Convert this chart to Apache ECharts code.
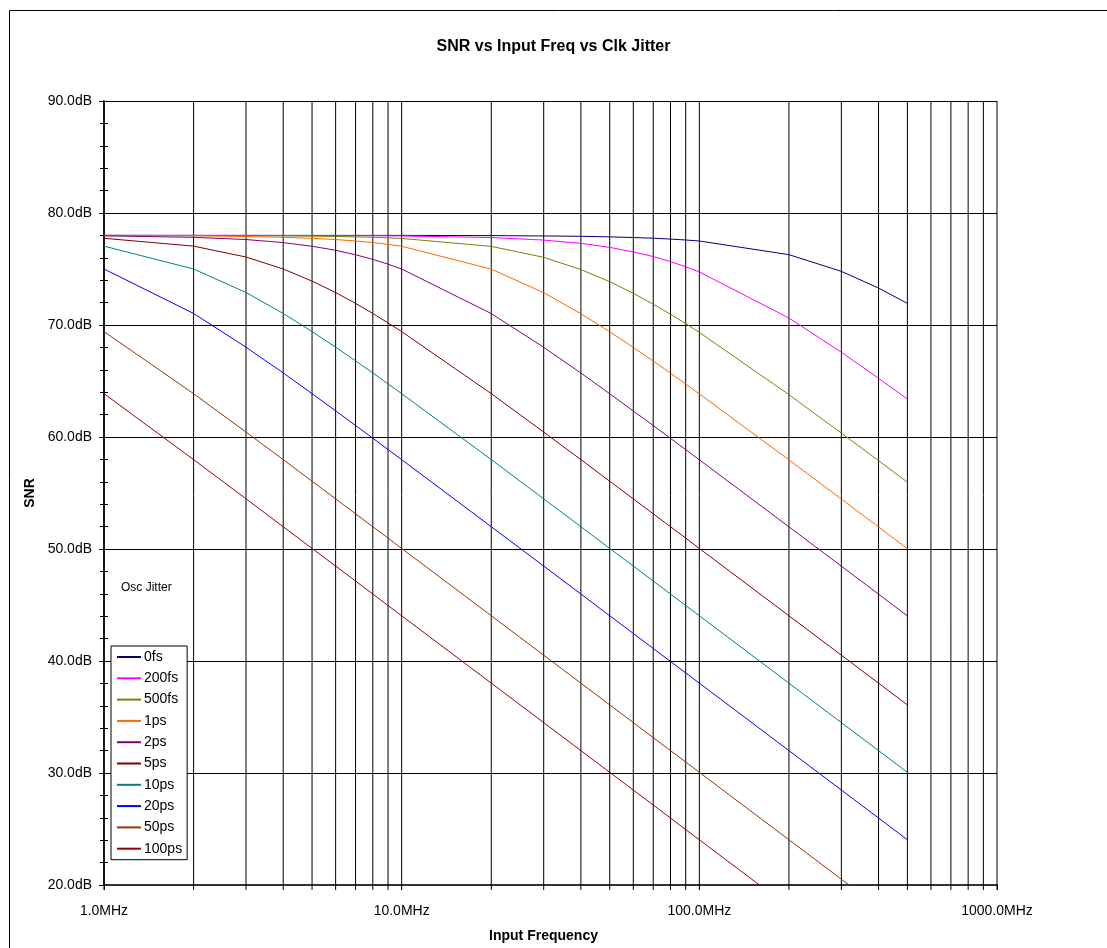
<!DOCTYPE html>
<html>
<head>
<meta charset="utf-8">
<script src="https://cdn.jsdelivr.net/npm/echarts@6/dist/echarts.min.js"></script>
<style>html,body{margin:0;padding:0;background:#fff;}#c{width:1107px;height:948px;}</style>
</head>
<body>
<div id="c"></div>
<script>
// Input frequency (MHz)
const freqMHz = [1,2,3,4,5,6,7,8,9,10,20,30,40,50,60,70,80,90,100,200,300,400,500];
// SNR (dB) for each oscillator jitter
const snr0fs   = [78.00,78.00,78.00,78.00,78.00,78.00,78.00,78.00,78.00,78.00,77.98,77.95,77.92,77.87,77.81,77.75,77.67,77.59,77.50,76.28,74.79,73.30,71.93];
const snr200fs = [78.00,78.00,78.00,77.99,77.99,77.98,77.98,77.97,77.96,77.95,77.81,77.58,77.29,76.93,76.53,76.11,75.66,75.20,74.74,70.62,67.57,65.24,63.39];
const snr500fs = [78.00,77.99,77.98,77.96,77.93,77.90,77.87,77.83,77.78,77.73,77.02,76.04,74.95,73.87,72.83,71.86,70.96,70.12,69.34,63.78,60.35,57.89,55.96];
const snr1ps   = [77.99,77.96,77.90,77.83,77.74,77.63,77.50,77.36,77.20,77.03,74.99,72.88,71.01,69.40,68.00,66.78,65.70,64.73,63.85,57.96,54.46,51.97,50.03];
const snr2ps   = [77.96,77.83,77.63,77.36,77.03,76.67,76.27,75.86,75.43,75.00,71.02,68.01,65.71,63.86,62.33,61.02,59.88,58.87,57.97,51.98,48.47,45.97,44.03];
const snr5ps   = [77.74,77.04,76.07,75.00,73.92,72.90,71.93,71.03,70.19,69.41,63.87,60.44,57.98,56.05,54.48,53.14,51.99,50.97,50.05,44.04,40.52,38.02,36.08];
const snr10ps  = [77.04,75.00,72.90,71.03,69.41,68.02,66.80,65.72,64.74,63.87,57.98,54.48,51.99,50.05,48.48,47.14,45.98,44.95,44.04,38.02,34.50,32.00,30.06];
const snr20ps  = [75.00,71.03,68.02,65.72,63.87,62.34,61.03,59.89,58.88,57.98,51.99,48.48,45.98,44.04,42.46,41.12,39.96,38.93,38.02,32.00,28.48,25.98,24.04];
const snr50ps  = [69.41,63.87,60.44,57.98,56.05,54.48,53.14,51.99,50.97,50.05,44.04,40.52,38.02,36.08,34.50,33.16,32.00,30.98,30.06,24.04,20.52,18.02,16.08];
const snr100ps = [63.87,57.98,54.48,51.99,50.05,48.48,47.14,45.98,44.95,44.04,38.02,34.50,32.00,30.06,28.48,27.14,25.98,24.95,24.04,18.02,14.50,12.00,10.06];

const seriesNames = ['0fs','200fs','500fs','1ps','2ps','5ps','10ps','20ps','50ps','100ps'];
const seriesValues = [snr0fs,snr200fs,snr500fs,snr1ps,snr2ps,snr5ps,snr10ps,snr20ps,snr50ps,snr100ps];
const seriesColors = ['#000080','#FF00FF','#808000','#FF6600','#800080','#800000','#008080','#0000FF','#993300','#990000'];

// x gridline positions (MHz) and axis range
const gridFreqs = [1,2,3,4,5,6,7,8,9,10,20,30,40,50,60,70,80,90,100,200,300,400,500,600,700,800,900,1000];
const yMin = 20, yMax = 90, yStep = 10;

const FONT = '"Liberation Sans", Arial, sans-serif';
const chart = echarts.init(document.getElementById('c'), null, {renderer: 'canvas'});

const lineSeries = seriesNames.map((n, i) => ({
  name: n,
  type: 'line',
  data: freqMHz.map((f, k) => [f, seriesValues[i][k]]),
  symbol: 'none',
  smooth: false,
  clip: true,
  z: 5,
  lineStyle: {color: seriesColors[i], width: 1},
  itemStyle: {color: seriesColors[i]},
  emphasis: {disabled: true},
  animation: false
}));

const gridSeries = {
  name: 'vgrid',
  type: 'custom',
  z: 1,
  silent: true,
  animation: false,
  data: gridFreqs.map(f => [f, yMin]),
  renderItem: function (params, api) {
    const f = api.value(0);
    const top = api.coord([f, yMax]);
    const bot = api.coord([f, yMin]);
    return {
      type: 'line',
      shape: {x1: top[0], y1: top[1], x2: bot[0], y2: bot[1] + 5},
      style: {stroke: '#000', lineWidth: 1}
    };
  }
};

chart.setOption({
  backgroundColor: '#fff',
  animation: false,
  title: {
    text: 'SNR vs Input Freq vs Clk Jitter',
    left: 'center',
    top: 34,
    textStyle: {fontFamily: FONT, fontSize: 16, fontWeight: 'bold', color: '#000'}
  },
  graphic: [
    {type: 'rect', z: 0, silent: true,
     shape: {x: 9.5, y: 10.5, width: 1130, height: 970},
     style: {fill: 'none', stroke: '#000', lineWidth: 1}},
    {type: 'text', left: 121, top: 582, z: 10,
     style: {text: 'Osc Jitter', fontFamily: FONT, fontSize: 12, fill: '#000'}}
  ],
  grid: {left: 104, top: 101, width: 893, height: 786, containLabel: false},
  legend: {
    data: seriesNames,
    orient: 'vertical',
    left: 111,
    top: 646,
    padding: [4, 5, 4, 5],
    itemWidth: 24,
    itemHeight: 14,
    itemGap: 7.3,
    backgroundColor: '#fff',
    borderColor: '#000',
    borderWidth: 1,
    selectedMode: false,
    itemStyle: {opacity: 0},
    textStyle: {fontFamily: FONT, fontSize: 14, color: '#000', padding: [0,0,0,-2]}
  },
  xAxis: {
    type: 'log',
    logBase: 10,
    min: 1,
    max: 1000,
    name: 'Input Frequency',
    nameLocation: 'middle',
    nameGap: 44,
    nameTextStyle: {fontFamily: FONT, fontSize: 14, fontWeight: 'bold', color: '#000', padding: [0, 14, 0, 0]},
    axisLine: {show: true, onZero: false, lineStyle: {color: '#333', width: 2}},
    axisTick: {show: true, length: 5, lineStyle: {color: '#000'}},
    minorTick: {show: false},
    splitLine: {show: false},
    axisLabel: {
      fontFamily: FONT, fontSize: 14, color: '#000', margin: 19,
      formatter: v => Number(v).toFixed(1) + 'MHz'
    }
  },
  yAxis: [{
    type: 'value',
    min: yMin,
    max: yMax,
    interval: yStep,
    name: 'SNR',
    nameLocation: 'middle',
    nameGap: 62,
    nameRotate: 90,
    nameTextStyle: {fontFamily: FONT, fontSize: 14, fontWeight: 'bold', color: '#000'},
    axisLine: {show: true, lineStyle: {color: '#333', width: 2}},
    axisTick: {show: true, length: 5, lineStyle: {color: '#000'}},
    minorTick: {show: true, splitNumber: 5, length: 4, lineStyle: {color: '#000'}},
    splitLine: {show: true, lineStyle: {color: '#000', width: 1}},
    axisLabel: {
      fontFamily: FONT, fontSize: 14, color: '#000', margin: 12,
      formatter: v => Number(v).toFixed(1) + 'dB'
    }
  }, {
    type: 'value',
    min: yMin,
    max: yMax,
    interval: yStep,
    position: 'left',
    axisLine: {show: false},
    axisTick: {show: false, inside: true},
    minorTick: {show: true, splitNumber: 5, length: 4, lineStyle: {color: '#000'}},
    splitLine: {show: false},
    axisLabel: {show: false}
  }],
  series: [gridSeries].concat(lineSeries)
});
</script>
</body>
</html>
